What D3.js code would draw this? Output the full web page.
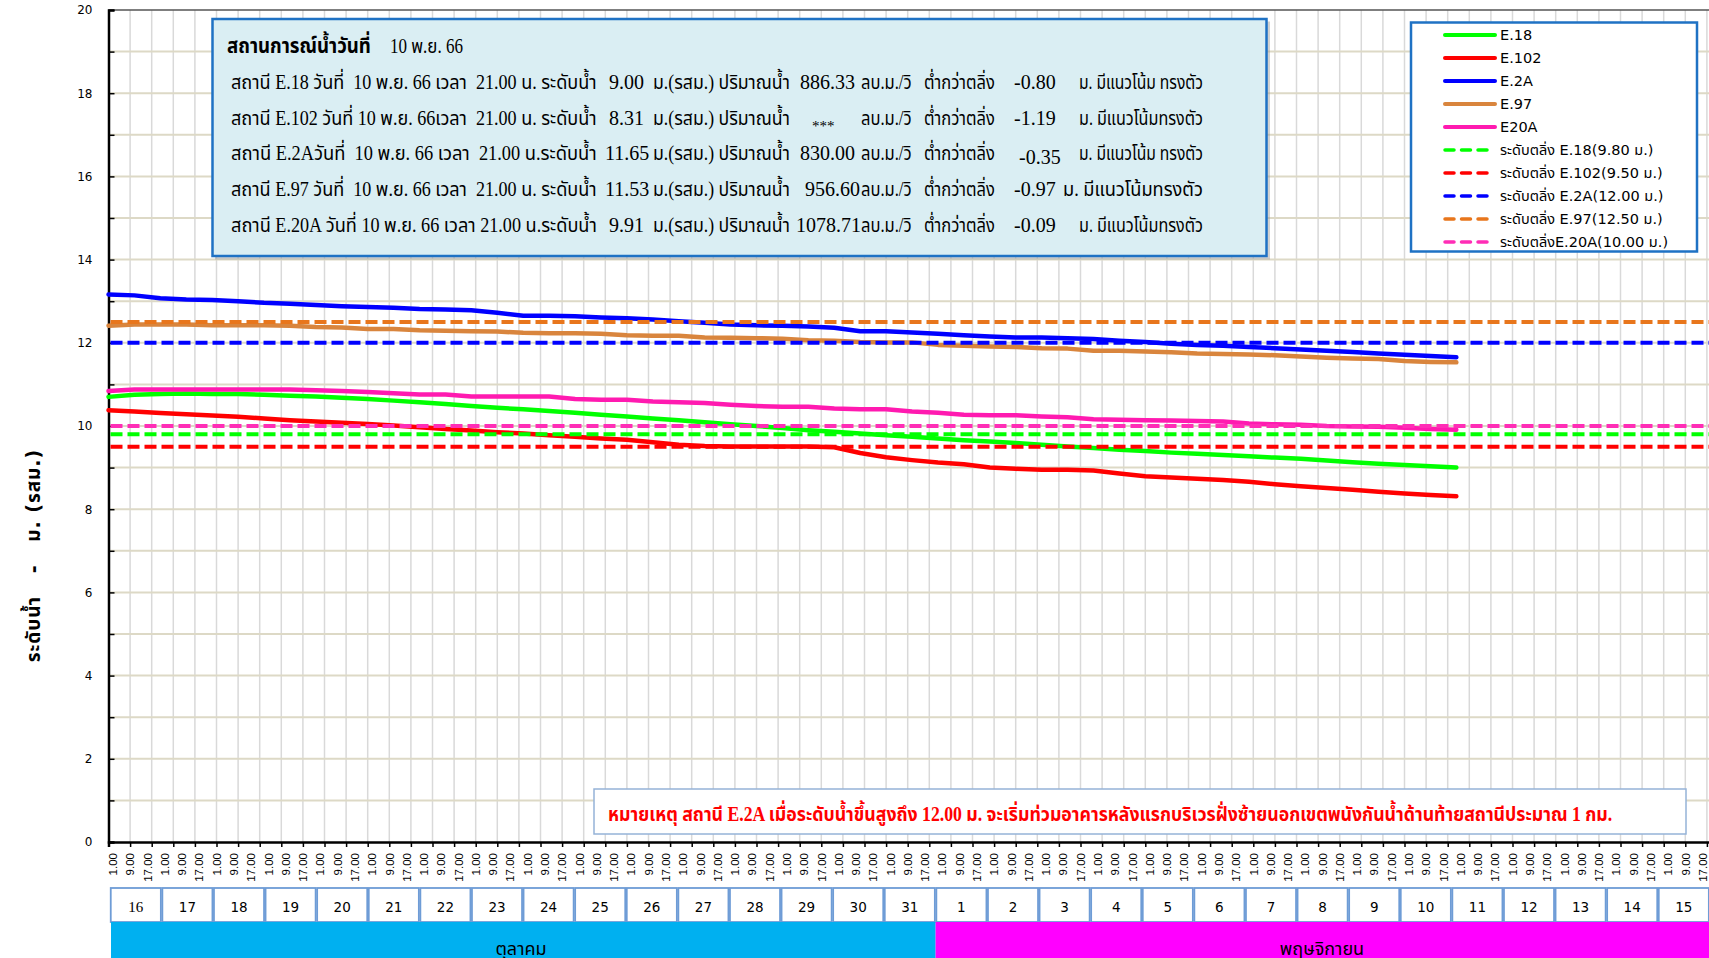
<!DOCTYPE html>
<html><head><meta charset="utf-8">
<script src="https://cdn.jsdelivr.net/npm/d3@7"></script>
<style>
html,body{margin:0;padding:0;background:#fff;overflow:hidden}
svg{display:block}
</style></head><body>
<svg id="chart" width="1709" height="958"></svg>
<script>
// ---------------- DATA ----------------
// hour index since 16 ต.ค. 1.00 (hourly categories)
const hours = [0,12,24,36,48,60,72,84,96,108,120,132,144,156,168,180,192,204,216,228,240,252,264,276,288,300,312,324,336,348,360,372,384,396,408,420,432,444,456,468,480,492,504,516,528,540,552,564,576,588,600,612,624];
const e18  = [10.70,10.75,10.77,10.78,10.77,10.77,10.75,10.73,10.71,10.68,10.65,10.61,10.57,10.53,10.48,10.44,10.40,10.36,10.32,10.27,10.23,10.18,10.14,10.09,10.04,10.00,9.95,9.90,9.86,9.82,9.78,9.74,9.70,9.66,9.63,9.59,9.55,9.51,9.47,9.43,9.40,9.36,9.33,9.30,9.27,9.24,9.21,9.17,9.13,9.09,9.06,9.03,9.00];
const e102 = [10.38,10.35,10.31,10.28,10.25,10.22,10.18,10.14,10.11,10.08,10.05,10.01,9.97,9.93,9.89,9.85,9.82,9.78,9.74,9.70,9.67,9.61,9.55,9.52,9.51,9.51,9.51,9.51,9.49,9.35,9.25,9.18,9.12,9.08,9.00,8.97,8.95,8.95,8.93,8.86,8.79,8.76,8.73,8.70,8.66,8.60,8.55,8.51,8.47,8.42,8.38,8.34,8.31];
const e2a  = [13.16,13.14,13.07,13.04,13.03,13.00,12.96,12.94,12.91,12.88,12.86,12.84,12.81,12.80,12.78,12.72,12.65,12.65,12.64,12.61,12.59,12.56,12.52,12.48,12.44,12.42,12.41,12.39,12.36,12.28,12.28,12.25,12.22,12.18,12.15,12.13,12.13,12.11,12.09,12.05,12.02,11.98,11.95,11.93,11.90,11.87,11.84,11.81,11.78,11.74,11.71,11.68,11.65];
const e97  = [12.41,12.44,12.44,12.44,12.42,12.42,12.42,12.41,12.38,12.37,12.33,12.33,12.30,12.29,12.28,12.27,12.24,12.23,12.23,12.22,12.18,12.17,12.17,12.13,12.12,12.11,12.10,12.06,12.05,12.02,12.01,12.01,11.95,11.93,11.91,11.90,11.87,11.86,11.81,11.81,11.79,11.77,11.74,11.73,11.72,11.70,11.67,11.64,11.62,11.61,11.56,11.54,11.53];
const e20a = [10.84,10.88,10.88,10.88,10.88,10.88,10.88,10.88,10.86,10.84,10.82,10.79,10.76,10.76,10.71,10.71,10.71,10.71,10.65,10.63,10.63,10.59,10.57,10.55,10.51,10.48,10.46,10.46,10.42,10.40,10.40,10.35,10.32,10.27,10.26,10.26,10.23,10.21,10.16,10.15,10.14,10.13,10.12,10.11,10.06,10.04,10.03,10.00,9.99,9.98,9.96,9.93,9.91];

const seriesNames  = ["E.18","E.102","E.2A","E.97","E20A"];
const seriesValues = [e18, e102, e2a, e97, e20a];
const seriesColors = ["#00FF00","#FF0000","#0000FF","#D9853D","#FF1AB0"];

const bankLevels  = [9.80, 9.50, 12.00, 12.50, 10.00];
const bankLabels  = ["ระดับตลิ่ง E.18(9.80 ม.)","ระดับตลิ่ง E.102(9.50 ม.)","ระดับตลิ่ง E.2A(12.00 ม.)","ระดับตลิ่ง E.97(12.50 ม.)","ระดับตลิ่งE.20A(10.00 ม.)"];
const bankColors  = ["#00FF00","#FF0000","#0000FF","#E8761C","#FF2DB6"];

const yTickLabels = [0,2,4,6,8,10,12,14,16,18,20];
const xTimeLabels = ["1.00","9.00","17.00"];
const days   = ["16","17","18","19","20","21","22","23","24","25","26","27","28","29","30","31","1","2","3","4","5","6","7","8","9","10","11","12","13","14","15"];
const months = ["ตุลาคม","พฤษจิกายน"];
const monthDays = [16, 15];
const monthColors = ["#00B0F0","#FF00FF"];

const infoTitle = "สถานการณ์น้ำวันที่";
const infoDate  = "10 พ.ย. 66";
const infoPrefix = [
  "สถานี E.18 วันที่  10 พ.ย. 66 เวลา  21.00 น. ระดับน้ำ",
  "สถานี E.102 วันที่ 10 พ.ย. 66เวลา  21.00 น. ระดับน้ำ",
  "สถานี E.2Aวันที่  10 พ.ย. 66 เวลา  21.00 น.ระดับน้ำ",
  "สถานี E.97 วันที่  10 พ.ย. 66 เวลา  21.00 น. ระดับน้ำ",
  "สถานี E.20A วันที่ 10 พ.ย. 66 เวลา 21.00 น.ระดับน้ำ"];
const infoLevels = ["9.00","8.31","11.65","11.53","9.91"];
const infoFlows  = ["886.33","***","830.00","956.60","1078.71"];
const infoDiffs  = ["-0.80","-1.19","-0.35","-0.97","-0.09"];
const infoTrend  = ["ม. มีแนวโน้ม ทรงตัว","ม. มีแนวโน้มทรงตัว","ม. มีแนวโน้ม ทรงตัว","ม. มีแนวโน้มทรงตัว","ม. มีแนวโน้มทรงตัว"];
const noteText = "หมายเหตุ สถานี E.2A เมื่อระดับน้ำขึ้นสูงถึง 12.00 ม. จะเริ่มท่วมอาคารหลังแรกบริเวรฝั่งซ้ายนอกเขตพนังกันน้ำด้านท้ายสถานีประมาณ 1 กม.";
const yTitle = "ระดับน้ำ   -   ม. (รสม.)";

// ---------------- LAYOUT ----------------
const THAI = '"Noto Sans Thai","Noto Serif Thai","Loma","Garuda","Norasi","Tlwg Typo"';
const SERIF = '"Liberation Serif",' + THAI + ',serif';
const SANS = '"DejaVu Sans",' + THAI + ',sans-serif';

// place a text at (px,py) and squeeze it horizontally (keeping height) to a target width
function fitAt(sel, px, py, target, base) {
  sel.attr("font-size", base).attr("x", 0).attr("y", 0);
  const len = sel.node().getComputedTextLength();
  const sx = len > target ? target / len : 1;
  sel.attr("transform", `translate(${px},${py}) scale(${sx.toFixed(4)},1)`);
  return sel;
}
// shrink font if too wide, else stretch spacing
function fit(sel, target, base) {
  sel.attr("font-size", base);
  const len = sel.node().getComputedTextLength();
  if (len > target) sel.attr("font-size", (base * target / len * 0.995).toFixed(2));
  else sel.attr("textLength", target - 0.5).attr("lengthAdjust", "spacing");
  return sel;
}

const svg = d3.select("#chart");
const L = 108.5, T = 10, B = 842;
const totalHours = 744;
const x = d3.scaleLinear().domain([0, totalHours]).range([L, L + totalHours * 2.16]);
const y = d3.scaleLinear().domain([0, 20]).range([B, T]);

// gridlines
const g = svg.append("g");
g.selectAll("line.vg").data(d3.range(10, totalHours + 1, 10)).join("line")
  .attr("x1", d => x(d)).attr("x2", d => x(d)).attr("y1", T).attr("y2", B)
  .attr("stroke", "#D9D9D9").attr("stroke-width", 1.5);
g.selectAll("line.hg").data(d3.range(1, 20)).join("line")
  .attr("x1", L).attr("x2", 1709).attr("y1", d => y(d)).attr("y2", d => y(d))
  .attr("stroke", "#DDD9C6").attr("stroke-width", 2);
svg.append("line").attr("x1", L).attr("x2", 1709).attr("y1", T).attr("y2", T)
  .attr("stroke", "#555").attr("stroke-width", 1.5);

// y axis
const yAxis = d3.axisLeft(y).tickValues(d3.range(0, 21, 1)).tickSize(-6).tickPadding(16)
  .tickFormat(v => yTickLabels.includes(v) ? String(v) : "");
const yg = svg.append("g").attr("transform", `translate(${L},0)`).call(yAxis);
yg.select(".domain").attr("stroke", "#000").attr("stroke-width", 2.5);
yg.selectAll(".tick line").attr("stroke", "#000").attr("stroke-width", 1.5);
yg.selectAll(".tick text").attr("font-family", SANS).attr("font-size", 12).attr("fill", "#000");

// x axis
const xAxis = d3.axisBottom(x).tickValues(d3.range(0, totalHours + 1, 10)).tickSize(5).tickFormat("");
const xg = svg.append("g").attr("transform", `translate(0,${B})`).call(xAxis);
xg.select(".domain").attr("stroke", "#000").attr("stroke-width", 2.5);
xg.selectAll(".tick line").attr("stroke", "#000").attr("stroke-width", 1.5);

const labHours = d3.range(0, totalHours, 8);
svg.append("g").selectAll("text").data(labHours).join("text")
  .attr("transform", d => `translate(${x(d) + 5.5},853) rotate(-90)`)
  .attr("text-anchor", "end").attr("dominant-baseline", "middle")
  .attr("font-family", '"Liberation Sans",sans-serif').attr("font-size", 11.5)
  .text((d, i) => xTimeLabels[i % 3]);

// y title
const yt = svg.append("text").attr("transform", "translate(40,556) rotate(-90)")
  .attr("text-anchor", "middle").attr("font-family", SANS)
  .attr("font-weight", "bold").style("white-space", "pre").text(yTitle);
fit(yt, 213, 19);

// series lines
const line = d3.line().x((d, i) => x(hours[i])).y(d => y(d));
svg.append("g").selectAll("path").data(seriesValues).join("path")
  .attr("d", d => line(d)).attr("fill", "none")
  .attr("stroke", (d, i) => seriesColors[i]).attr("stroke-width", 4.5)
  .attr("stroke-linejoin", "round").attr("stroke-linecap", "round");

// bank level dashed lines
svg.append("g").selectAll("line").data(bankLevels).join("line")
  .attr("x1", L + 2).attr("x2", 1709).attr("y1", d => y(d)).attr("y2", d => y(d))
  .attr("stroke", (d, i) => bankColors[i]).attr("stroke-width", 4)
  .attr("stroke-dasharray", "12,5");

// ---------------- INFO BOX ----------------
svg.append("rect").attr("x", 215).attr("y", 21.5).attr("width", 1055).attr("height", 238)
  .attr("fill", "#9a9a9a").attr("opacity", 0.45);
svg.append("rect").attr("x", 212.5).attr("y", 19).attr("width", 1054).attr("height", 237)
  .attr("fill", "#DAEEF3").attr("stroke", "#1F72C4").attr("stroke-width", 2.5);
fitAt(svg.append("text").attr("font-family", SERIF).attr("font-weight", "bold").text(infoTitle), 227, 53, 144, 21);
fitAt(svg.append("text").attr("font-family", SERIF).text(infoDate), 390, 53, 73, 20);

const rowBase = [89, 125, 160, 196, 232];
const info = svg.append("g").attr("font-family", SERIF).attr("fill", "#000");
rowBase.forEach((by, i) => {
  fitAt(info.append("text").style("white-space", "pre").text(infoPrefix[i]), 231, by, 366, 20);
  info.append("text").attr("x", i === 2 || i === 3 ? 605 : 609).attr("y", by).attr("font-size", 20).text(infoLevels[i]);
  fitAt(info.append("text").text("ม.(รสม.) ปริมาณน้ำ"), 653, by, 137, 20);
  const fx = [800, 812, 800, 805, 796][i];
  info.append("text").attr("x", fx).attr("y", by + (i === 1 ? 6 : 0))
    .attr("font-size", i === 1 ? 15 : 20).text(infoFlows[i]);
  fitAt(info.append("text").style("white-space", "pre").text("ลบ.ม./วิ   ต่ำกว่าตลิ่ง"), 861, by, 134, 20);
  info.append("text").attr("x", i === 2 ? 1019 : 1014).attr("y", by + (i === 2 ? 4 : 0))
    .attr("font-size", 20).text(infoDiffs[i]);
  fitAt(info.append("text").text(infoTrend[i]), i === 3 ? 1063 : 1079, by, i === 3 ? 140 : 124, 20);
});

// ---------------- LEGEND ----------------
svg.append("rect").attr("x", 1411).attr("y", 22.5).attr("width", 286).attr("height", 229)
  .attr("fill", "#fff").attr("stroke", "#1F72C4").attr("stroke-width", 2.5);
const legendItems = seriesNames.map((n, i) => ({label: n, color: seriesColors[i], dash: false}))
  .concat(bankLabels.map((n, i) => ({label: n, color: bankColors[i], dash: true})));
const lg = svg.append("g").selectAll("g").data(legendItems).join("g")
  .attr("transform", (d, i) => `translate(0,${35 + i * 23})`);
lg.append("line").attr("x1", 1445).attr("x2", d => d.dash ? 1490 : 1495).attr("y1", 0).attr("y2", 0)
  .attr("stroke", d => d.color).attr("stroke-width", d => d.dash ? 3.5 : 4)
  .attr("stroke-linecap", "round")
  .attr("stroke-dasharray", d => d.dash ? "9,7.5" : null);
lg.append("text").attr("x", 1500).attr("y", 5).attr("font-family", SANS).attr("font-size", 14.5)
  .text(d => d.label);

// ---------------- NOTE BOX ----------------
svg.append("rect").attr("x", 594).attr("y", 789).attr("width", 1092).attr("height", 45)
  .attr("fill", "#fff").attr("stroke", "#95B3D7").attr("stroke-width", 1.5);
fitAt(svg.append("text").attr("font-family", SERIF).attr("font-weight", "bold")
  .attr("fill", "#FF0000").text(noteText), 608, 821, 1005, 20);

// ---------------- DAY / MONTH TABLE ----------------
const dx = d3.scaleBand().domain(days.map((d, i) => i)).range([110, 110 + 31 * 51.6]);
const dg = svg.append("g").selectAll("g").data(days).join("g")
  .attr("transform", (d, i) => `translate(${dx(i)},888)`);
dg.append("rect").attr("x", 0.75).attr("y", 0).attr("width", dx.bandwidth() - 1.5).attr("height", 34)
  .attr("fill", "#fff").attr("stroke", "#6E9CD6").attr("stroke-width", 1.8);
dg.append("text").attr("x", dx.bandwidth() / 2).attr("y", 24).attr("text-anchor", "middle")
  .attr("font-family", (d, i) => i === 0 ? '"Liberation Serif",serif' : '"DejaVu Sans",sans-serif')
  .attr("font-size", (d, i) => i === 0 ? 15 : 13.5).text(d => d);

let startDay = 0;
months.forEach((m, i) => {
  const x0 = dx(startDay) + (i === 0 ? 1 : 0);
  const x1 = i === months.length - 1 ? 1709 : dx(startDay + monthDays[i]);
  svg.append("rect").attr("x", x0).attr("y", 922).attr("width", x1 - x0).attr("height", 40)
    .attr("fill", monthColors[i]);
  const cx = i === 0 ? 521 : 1322;
  svg.append("text").attr("x", cx).attr("y", 955).attr("text-anchor", "middle")
    .attr("font-family", SANS).attr("font-size", 18).text(m);
  startDay += monthDays[i];
});
</script>
</body></html>
